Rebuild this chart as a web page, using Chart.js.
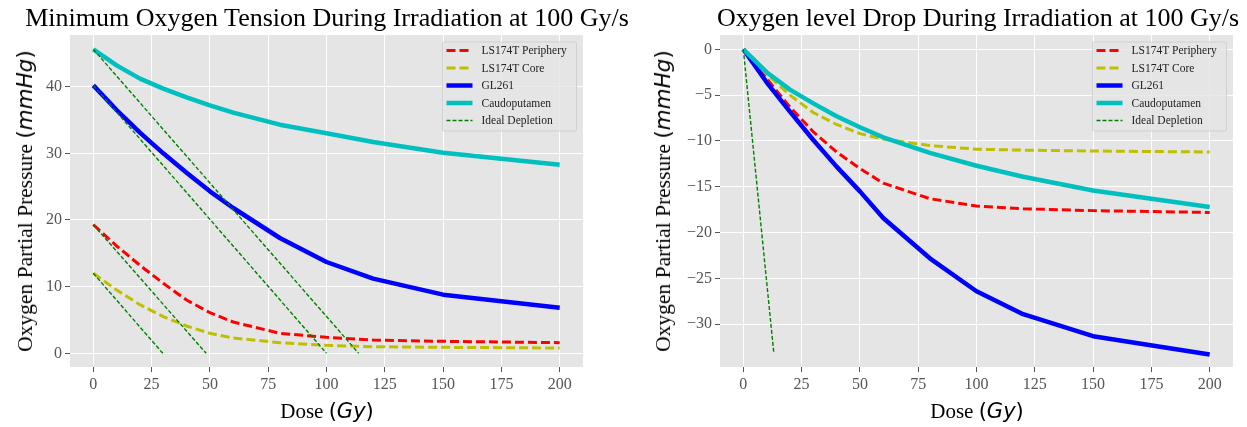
<!DOCTYPE html>
<html><head><meta charset="utf-8">
<script src="https://cdn.jsdelivr.net/npm/chart.js@4.4.1/dist/chart.umd.min.js"></script>
<style>
html,body{margin:0;padding:0;background:#fff;}
body{width:1247px;height:427px;overflow:hidden;position:relative;font-family:"Liberation Serif","Times New Roman",serif;}
.cv{position:absolute;top:0;}
.title{position:absolute;top:3px;font-size:26px;color:#000;white-space:nowrap;transform:translateX(-50%);}
.xl{position:absolute;font-size:21px;color:#000;white-space:nowrap;transform:translate(-50%,-50%);}
.yl{position:absolute;font-size:21.5px;color:#000;white-space:nowrap;transform:translate(-50%,-50%) rotate(-90deg);}
.dv{font-family:"DejaVu Sans",sans-serif;}
</style>
</head><body>
<div class="cv" style="left:0;width:620px;height:427px;"><canvas id="c1" width="620" height="427"></canvas></div>
<div class="cv" style="left:620px;width:627px;height:427px;"><canvas id="c2" width="627" height="427"></canvas></div>
<div class="title" style="left:327px;">Minimum Oxygen Tension During Irradiation at 100 Gy/s</div>
<div class="title" style="left:978px;">Oxygen level Drop During Irradiation at 100 Gy/s</div>
<div class="xl" style="left:327px;top:411px;">Dose <span class="dv">(<i>Gy</i>)</span></div>
<div class="xl" style="left:977px;top:411px;">Dose <span class="dv">(<i>Gy</i>)</span></div>
<div class="yl" style="left:25px;top:201px;">Oxygen Partial Pressure <span class="dv">(<i>mmHg</i>)</span></div>
<div class="yl" style="left:663px;top:201px;">Oxygen Partial Pressure <span class="dv">(<i>mmHg</i>)</span></div>
<script>
// ---- data ----
const doseGy = [0, 10, 20, 30, 40, 50, 60, 80, 100, 120, 150, 200];
const xTickValues = [0, 25, 50, 75, 100, 125, 150, 175, 200];
const leftYTickValues = [0, 10, 20, 30, 40];
const rightYTickValues = [0, -5, -10, -15, -20, -25, -30];
const seriesLabels = ["LS174T Periphery", "LS174T Core", "GL261", "Caudoputamen", "Ideal Depletion"];

// Minimum oxygen tension (mmHg)
const tensionPeriphery = [19.3, 16.1, 13.2, 10.5, 8.0, 6.1, 4.7, 3.0, 2.4, 2.0, 1.8, 1.6];
const tensionCore      = [12.0, 9.5, 7.3, 5.5, 4.1, 3.0, 2.3, 1.6, 1.2, 1.0, 0.9, 0.8];
const tensionGL261     = [40.2, 36.5, 33.1, 30.0, 27.1, 24.3, 21.8, 17.3, 13.7, 11.2, 8.8, 6.85];
const tensionCaudo     = [45.6, 43.2, 41.2, 39.7, 38.4, 37.2, 36.1, 34.3, 33.0, 31.7, 30.1, 28.3];
// Ideal depletion lines (start dose, start value) -> (end dose, 0)
const idealLeftDose  = [[0, 113.8], [0, 100.0], [0, 48.4], [0, 29.8]];
const idealLeftValue = [[45.6, 0], [40.2, 0], [19.3, 0], [12.0, 0]];

// Oxygen level drop (mmHg)
const dropPeriphery = [0, -3.2, -6.3, -9.0, -11.2, -13.0, -14.6, -16.3, -17.1, -17.4, -17.6, -17.8];
const dropCore      = [0, -2.7, -5.0, -6.9, -8.2, -9.2, -9.8, -10.5, -10.9, -11.0, -11.1, -11.2];
const dropGL261     = [0, -3.6, -6.8, -9.9, -12.8, -15.5, -18.4, -22.8, -26.4, -28.9, -31.3, -33.3];
const dropCaudo     = [0, -2.5, -4.4, -5.9, -7.3, -8.5, -9.6, -11.3, -12.7, -13.9, -15.4, -17.2];
const idealRightDose  = [0, 13.1];
const idealRightValue = [0, -33.2];

// ---- helpers ----
const pts = (xs, ys) => xs.map((x, i) => ({x: x, y: ys[i]}));
const styles = {
  periphery: {borderColor: '#FF0000', borderWidth: 3, borderDash: [9, 4], order: 5},
  core:      {borderColor: '#BFBF00', borderWidth: 3, borderDash: [9, 4], order: 4},
  gl261:     {borderColor: '#0000FF', borderWidth: 4.5, borderDash: [], order: 3},
  caudo:     {borderColor: '#00BFBF', borderWidth: 4.5, borderDash: [], order: 2},
  ideal:     {borderColor: '#008000', borderWidth: 1.4, borderDash: [4, 2], order: 1}
};
function ds(label, data, st) {
  return Object.assign({label: label, data: data, pointRadius: 0, pointHoverRadius: 0,
    fill: false, tension: 0, borderCapStyle: 'butt', borderJoinStyle: 'round'}, st);
}
const fmt = v => (v < 0 ? '\u2212' + Math.abs(v) : String(v));

const bgPlugin = {
  id: 'panelBg',
  beforeDraw(chart) {
    const {ctx, chartArea: a} = chart;
    ctx.save(); ctx.fillStyle = '#E5E5E5';
    ctx.fillRect(a.left, a.top, a.right - a.left, a.bottom - a.top); ctx.restore();
  }
};
const legendPlugin = {
  id: 'boxLegend',
  afterDraw(chart) {
    const {ctx, chartArea: a} = chart;
    const seen = new Set(); const items = [];
    chart.data.datasets.forEach(d => { if (!seen.has(d.label)) { seen.add(d.label); items.push(d); } });
    const w = 134, h = 89, x0 = a.right - 6.5 - w, y0 = a.top + 7;
    ctx.save();
    ctx.beginPath();
    ctx.roundRect(x0, y0, w, h, 2);
    ctx.fillStyle = 'rgba(229,229,229,0.8)'; ctx.fill();
    ctx.strokeStyle = 'rgba(204,204,204,0.8)'; ctx.lineWidth = 1; ctx.stroke();
    ctx.font = '11.5px "Liberation Serif"'; ctx.textBaseline = 'middle'; ctx.fillStyle = '#222';
    items.forEach((d, i) => {
      const y = y0 + 8.5 + i * 17.5;
      ctx.beginPath(); ctx.setLineDash(d.borderDash || []);
      ctx.strokeStyle = d.borderColor; ctx.lineWidth = d.borderWidth; ctx.lineCap = 'butt';
      ctx.moveTo(x0 + 4, y); ctx.lineTo(x0 + 30, y); ctx.stroke();
      ctx.setLineDash([]);
      ctx.fillText(d.label, x0 + 39, y + 0.5);
    });
    ctx.restore();
  }
};

function makeChart(id, datasets, yMin, yMax, yTicks, yWidth, padRight) {
  const tickFont = {family: 'Liberation Serif', size: 16};
  return new Chart(document.getElementById(id), {
    type: 'line',
    data: {datasets: datasets},
    options: {
      responsive: false, animation: false, events: [],
      layout: {padding: {left: 0, right: padRight, top: 35, bottom: 0}},
      plugins: {legend: {display: false}, tooltip: {enabled: false}, title: {display: false}},
      scales: {
        x: {
          type: 'linear', min: -10, max: 210,
          afterBuildTicks: s => { s.ticks = xTickValues.map(v => ({value: v})); },
          afterFit: s => { s.height = 60; },
          grid: {color: '#FFFFFF', lineWidth: 1, drawTicks: true, tickLength: 5, tickColor: '#555555', tickWidth: 1},
          border: {display: false},
          ticks: {color: '#555555', font: tickFont, padding: 3, maxRotation: 0, callback: fmt}
        },
        y: {
          type: 'linear', min: yMin, max: yMax,
          afterBuildTicks: s => { s.ticks = yTicks.map(v => ({value: v})); },
          afterFit: s => { s.width = yWidth; },
          grid: {color: '#FFFFFF', lineWidth: 1, drawTicks: true, tickLength: 5, tickColor: '#555555', tickWidth: 1},
          border: {display: false},
          ticks: {color: '#555555', font: tickFont, padding: 3, callback: fmt}
        }
      }
    },
    plugins: [bgPlugin, legendPlugin]
  });
}

const leftSets = [
  ds(seriesLabels[0], pts(doseGy, tensionPeriphery), styles.periphery),
  ds(seriesLabels[1], pts(doseGy, tensionCore), styles.core),
  ds(seriesLabels[2], pts(doseGy, tensionGL261), styles.gl261),
  ds(seriesLabels[3], pts(doseGy, tensionCaudo), styles.caudo)
];
idealLeftDose.forEach((xs, i) => leftSets.push(ds(seriesLabels[4], pts(xs, idealLeftValue[i]), styles.ideal)));

const rightSets = [
  ds(seriesLabels[0], pts(doseGy, dropPeriphery), styles.periphery),
  ds(seriesLabels[1], pts(doseGy, dropCore), styles.core),
  ds(seriesLabels[2], pts(doseGy, dropGL261), styles.gl261),
  ds(seriesLabels[3], pts(doseGy, dropCaudo), styles.caudo),
  ds(seriesLabels[4], pts(idealRightDose, idealRightValue), styles.ideal)
];

makeChart('c1', leftSets, -2.05, 47.75, leftYTickValues, 70, 37);
makeChart('c2', rightSets, -34.66, 1.56, rightYTickValues, 100, 14);
</script>
</body></html>
